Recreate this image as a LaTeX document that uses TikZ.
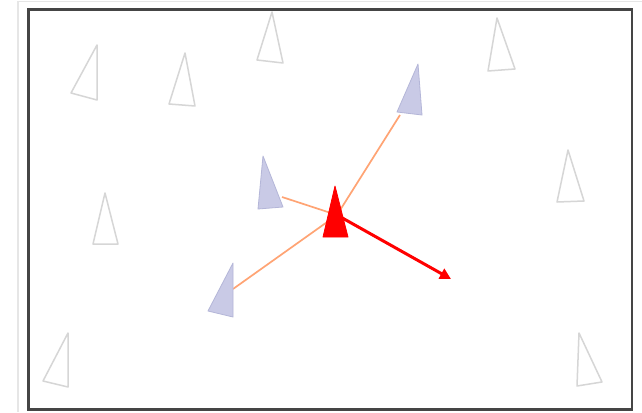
\documentclass[tikz,border=0pt]{standalone}
\usetikzlibrary{arrows.meta}
\definecolor{framegray}{HTML}{454545}
\definecolor{edgegray}{HTML}{E6E6E6}
\definecolor{ghost}{HTML}{D6D6D6}
\definecolor{lav}{HTML}{C9CAE6}
\definecolor{lavedge}{HTML}{B4B6D8}
\definecolor{link}{HTML}{FFA474}
\tikzset{
  ghosttri/.style={draw=ghost, line width=1.5pt, line join=round, fill=white},
  agenttri/.style={draw=lavedge, line width=0.8pt, line join=round, fill=lav},
  leadtri/.style={draw=red, line width=0.8pt, line join=round, fill=red},
  linkline/.style={draw=link, line width=1.7pt},
  heading/.style={draw=red, line width=3pt, -{Triangle[length=11pt,width=11pt]}},
}
\begin{document}
\begin{tikzpicture}[x=1pt,y=-1pt]
\useasboundingbox (0,0) rectangle (642,412);
\fill[white] (0,0) rectangle (642,412);
% outer light edges
\draw[edgegray, line width=1.5pt] (18,412) -- (18,1.5) -- (642,1.5);
% frame
\draw[framegray, line width=2.6pt] (28.5,9.5) rectangle (632,409.5);
% ghost triangles
\path[ghosttri] (97,45) -- (71,93) -- (97,100) -- cycle;
\path[ghosttri] (185,53) -- (169,104) -- (195,106) -- cycle;
\path[ghosttri] (272,12) -- (257,60) -- (283,63) -- cycle;
\path[ghosttri] (497,18) -- (488,71) -- (515,69) -- cycle;
\path[ghosttri] (568,150) -- (557,202) -- (584,201) -- cycle;
\path[ghosttri] (105,193) -- (93,244) -- (118,244) -- cycle;
\path[ghosttri] (68,333) -- (43,381) -- (68,387) -- cycle;
\path[ghosttri] (579,333) -- (577,386) -- (602,382) -- cycle;
% coordinates
\coordinate (lead) at (337,215);
\coordinate (a) at (282,197);
\coordinate (b) at (233,289);
\coordinate (c) at (400,115);
\coordinate (goal) at (451,279);
% links
\draw[linkline] (a) -- (lead);
\draw[linkline] (b) -- (lead);
\draw[linkline] (c) -- (lead);
% agent triangles
\path[agenttri] (263,156) -- (258,209) -- (283,207) -- cycle;
\path[agenttri] (233,263) -- (208,311) -- (233,317) -- cycle;
\path[agenttri] (418,64) -- (397,112) -- (422,115) -- cycle;
% leader
\path[leadtri] (335,186) -- (323,237) -- (348,237) -- cycle;
\draw[heading] (lead) -- (goal);
\end{tikzpicture}
\end{document}
